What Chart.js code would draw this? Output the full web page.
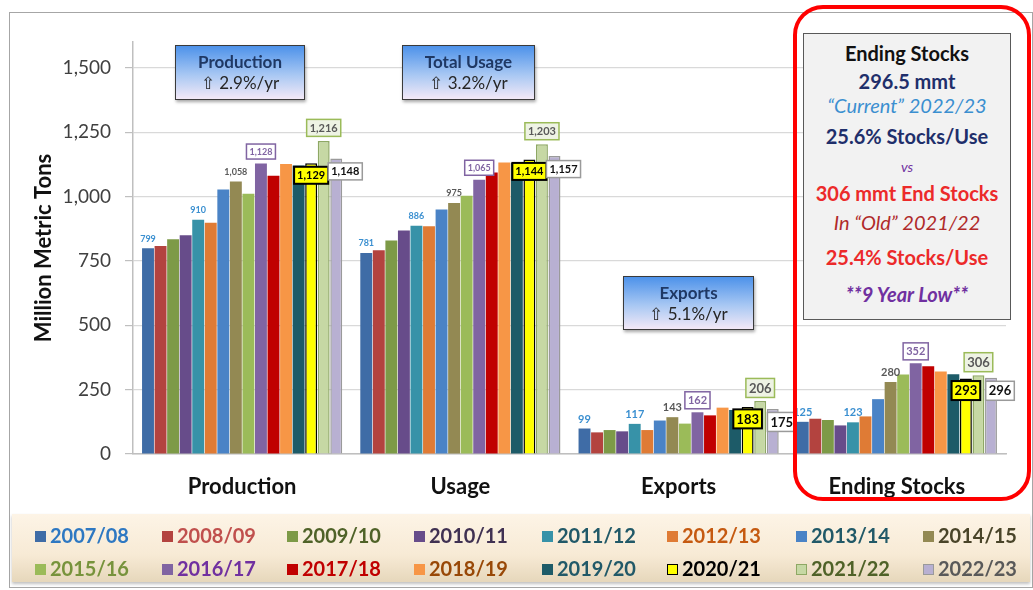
<!DOCTYPE html>
<html><head><meta charset="utf-8">
<script src="https://cdn.jsdelivr.net/npm/chart.js@4"></script>
<style>
body{margin:0;width:1033px;height:590px;overflow:hidden;background:#fff;font-family:Lato,"Open Sans",sans-serif;position:relative}
#frame{position:absolute;left:9px;top:12px;width:1024px;height:576px;border:1.5px solid #a6a6a6;box-sizing:border-box}
#c{position:absolute;left:0;top:0}
.bb{position:absolute;box-sizing:border-box;border:1.5px solid #3a3a3a;background:linear-gradient(#4d92ea,#a9c8f3 55%,#f3e9f7);box-shadow:1px 2px 3px rgba(0,0,0,.35);text-align:center;font-size:17px;line-height:21px;padding-top:5px;color:#262626}
.bb b{color:#1f3864;font-size:17px}
#stk{position:absolute;left:803px;top:33px;width:208px;height:287px;box-sizing:border-box;border:1.5px solid #595959;background:#f2f2f2;text-align:center}
#stk div{position:absolute;left:0;width:100%;transform:translateY(-50%);white-space:nowrap}
#red{position:absolute;left:793px;top:5px;width:238px;height:496px;box-sizing:border-box;border:4px solid #f00;border-radius:30px}
#leg{position:absolute;left:12px;top:514px;width:1018px;height:68px;background:linear-gradient(#fdf4e6,#f7ead5 60%,#e6d7bb);box-shadow:0 2px 3px rgba(0,0,0,.25)}
.li{position:absolute;font-weight:bold;font-size:20px;white-space:nowrap;transform:translateY(-50%)}
.li span{display:inline-block;width:11px;height:11px;margin-right:4px;vertical-align:1px;box-sizing:border-box}
</style></head>
<body>
<div id="frame"></div>
<canvas id="c" width="1033" height="590"></canvas>
<div class="bb" style="left:175px;top:45px;width:130px;height:55px"><b>Production</b><br>⇧ 2.9%/yr</div>
<div class="bb" style="left:402px;top:45px;width:133px;height:55px"><b>Total Usage</b><br>⇧ 3.2%/yr</div>
<div class="bb" style="left:623px;top:276px;width:131px;height:54px"><b>Exports</b><br>⇧ 5.1%/yr</div>
<div id="stk">
 <div style="top:19px;font-weight:bold;font-size:20px;color:#111">Ending Stocks</div>
 <div style="top:47px;font-weight:bold;font-size:20px;color:#1f2f6b">296.5 mmt</div>
 <div style="top:71px;font-style:italic;font-size:20px;color:#3b8fd0">“Current” 2022/23</div>
 <div style="top:102px;font-weight:bold;font-size:20px;color:#1f2f6b">25.6% Stocks/Use</div>
 <div style="top:132px;font-style:italic;font-size:14px;color:#7030a0">vs</div>
 <div style="top:159px;font-weight:bold;font-size:20px;color:#ec2a2a">306 mmt End Stocks</div>
 <div style="top:188px;font-style:italic;font-size:20px;color:#b02a2a">In “Old” 2021/22</div>
 <div style="top:223px;font-weight:bold;font-size:20px;color:#ec2a2a">25.4% Stocks/Use</div>
 <div style="top:260px;font-weight:bold;font-style:italic;font-size:20px;color:#7030a0">**9 Year Low**</div>
</div>
<div id="red"></div>
<div id="leg"></div>
<script>
const categories = ['Production', 'Usage', 'Exports', 'Ending Stocks'];
const seasons = ['2007/08','2008/09','2009/10','2010/11','2011/12','2012/13','2013/14','2014/15',
                 '2015/16','2016/17','2017/18','2018/19','2019/20','2020/21','2021/22','2022/23'];
const production   = [799, 808, 834, 850, 910, 898, 1027, 1058, 1011, 1128, 1081, 1126, 1120, 1129, 1216, 1148];
const usage        = [781, 791, 829, 868, 886, 884, 950, 975, 1003, 1065, 1093, 1132, 1130, 1144, 1203, 1157];
const exportsVals  = [99, 84, 93, 88, 117, 93, 130, 143, 118, 162, 150, 180, 171, 183, 206, 175];
const endingStocks = [125, 137, 132, 111, 123, 146, 213, 280, 309, 352, 341, 320, 310, 293, 306, 296];
const yTicks = [0, 250, 500, 750, 1000, 1250, 1500];

const barColors = ['#3f6ca6','#b3433f','#7d9a47','#674c8a','#3792a8','#df7b35','#4a83c6','#938953',
                   '#9bbb59','#8064a2','#c00000','#f79646','#1d5b68','#ffff00','#c6d8a4','#b8b0d2'];
const barBorders = [null,null,null,null,null,null,null,null,null,null,null,null,null,'#000000','#8ea864','#9a9a9a'];
const legendText = ['#2e78c2','#c0504d','#4f6228','#403152','#215968','#c55a11','#215968','#494429',
                    '#77933c','#7030a0','#c00000','#984807','#215968','#000000','#4f6228','#595959'];

const labelStyles = {
  0:{dx:0,dy:-10,color:'#3a8fd0'},
  4:{dx:0,dy:-10,color:'#3a8fd0'},
  7:{dx:0,dy:-10,color:'#595959'},
  9:{dx:0,dy:-12,color:'#8064a2',box:true,fill:'#ffffff',stroke:'#8064a2',lw:1.5,thin:true},
  13:{dx:0,dy:12,color:'#000000',box:true,fill:'#ffff00',stroke:'#000000',lw:2},
  14:{dx:0,dy:-13,color:'#595959',box:true,fill:'#eef3e4',stroke:'#9bbb59',lw:1.5},
  15:{dx:9,dy:13,color:'#111111',box:true,fill:'#ffffff',stroke:'#9a9a9a',lw:1.5}
};

const datasets = seasons.map((s, i) => ({
  label: s,
  data: [production[i], usage[i], exportsVals[i], endingStocks[i]],
  backgroundColor: barColors[i],
  borderColor: barBorders[i] || barColors[i],
  borderWidth: barBorders[i] ? 1.5 : 0,
  categoryPercentage: 0.92,
  barPercentage: 0.95
}));

const labelPlugin = {
  id: 'barLabels',
  afterDatasetsDraw(chart) {
    const ctx = chart.ctx;
    ctx.save();
    chart.data.datasets.forEach((ds, di) => {
      const st = labelStyles[di];
      if (!st) return;
      chart.getDatasetMeta(di).data.forEach((bar, ci) => {
        const txt = ds.data[ci].toLocaleString('en-US');
        const big = ci >= 2;
        const fs = st.box ? (st.thin ? (big ? 11 : 9) : (big ? 13 : 11)) : (big ? 11 : 9);
        ctx.font = 'bold ' + fs + 'px Lato';
        const w = ctx.measureText(txt).width;
        const cx = bar.x + st.dx, cy = bar.y + st.dy;
        if (st.box) {
          const bw = w + 6, bh = fs + 6;
          ctx.fillStyle = st.fill;
          ctx.fillRect(cx - bw / 2, cy - bh / 2, bw, bh);
          ctx.lineWidth = st.lw;
          ctx.strokeStyle = st.stroke;
          ctx.strokeRect(cx - bw / 2, cy - bh / 2, bw, bh);
        }
        ctx.fillStyle = st.color;
        ctx.textAlign = 'center';
        ctx.textBaseline = 'middle';
        ctx.fillText(txt, cx, cy + 0.5);
      });
    });
    ctx.restore();
  }
};

new Chart(document.getElementById('c'), {
  type: 'bar',
  data: { labels: categories, datasets },
  options: {
    responsive: false,
    animation: false,
    devicePixelRatio: 1,
    layout: { padding: { left: 27, right: 27, top: 42, bottom: 0 } },
    plugins: { legend: { display: false }, tooltip: { enabled: false } },
    scales: {
      x: {
        grid: { display: false, drawTicks: false },
        border: { display: true, color: '#bfbfbf', width: 1.5 },
        ticks: { padding: 20, color: '#111', font: { family: 'Lato', size: 22, weight: 'bold' } },
        afterFit(s) { s.height = 136; }
      },
      y: {
        min: 0, max: 1600,
        afterBuildTicks(s) { s.ticks = yTicks.map(v => ({ value: v })); },
        ticks: { padding: 14, color: '#404040', font: { family: 'Lato', size: 19 },
                 callback: v => v.toLocaleString('en-US') },
        grid: { color: '#d9d9d9', lineWidth: 1.2, tickLength: 8, tickColor: '#bfbfbf' },
        border: { display: true, color: '#bfbfbf', width: 1.5 },
        title: { display: true, text: 'Million Metric Tons', color: '#111',
                 font: { family: 'Lato', size: 22, weight: 'bold' } },
        afterFit(s) { s.width = 106; }
      }
    }
  },
  plugins: [labelPlugin]
});

// HTML legend
const legCols = [35, 162, 287, 414, 542, 667, 796, 923];
const leg = document.getElementById('leg');
seasons.forEach((s, i) => {
  const d = document.createElement('div');
  d.className = 'li';
  d.style.left = (legCols[i % 8] - 12) + 'px';
  d.style.top = (i < 8 ? 21 : 54) + 'px';
  d.style.color = legendText[i];
  const sq = document.createElement('span');
  sq.style.background = barColors[i];
  if (barBorders[i]) sq.style.border = '1.5px solid ' + (i === 13 ? '#000' : barBorders[i]);
  d.appendChild(sq);
  d.appendChild(document.createTextNode(s));
  leg.appendChild(d);
});
</script>
</body></html>
